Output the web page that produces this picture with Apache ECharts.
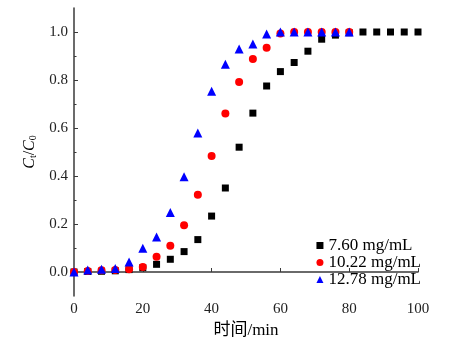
<!DOCTYPE html>
<html><head><meta charset="utf-8">
<script src="https://cdn.jsdelivr.net/npm/echarts@6/dist/echarts.min.js"></script>
<style>html,body{margin:0;padding:0;background:#fff}#c{width:454px;height:344px}</style>
</head><body><div id="c"></div>
<script>
var seriesNames = ['7.60 mg/mL', '10.22 mg/mL', '12.78 mg/mL'];
var timeBlack = [0,4,8,12,16,20,24,28,32,36,40,44,48,52,56,60,64,68,72,76,80,84,88,92,96,100];
var valBlack = [0,0.002,0.003,0.005,0.01,0.018,0.032,0.053,0.085,0.135,0.233,0.35,0.52,0.662,0.775,0.835,0.873,0.92,0.97,0.987,0.997,1,1,1,1,1];
var timeRed = [0,4,8,12,16,20,24,28,32,36,40,44,48,52,56,60,64,68,72,76,80];
var valRed = [0,0.004,0.007,0.008,0.011,0.021,0.064,0.109,0.195,0.322,0.483,0.66,0.792,0.887,0.934,0.994,1,1,1,1,1];
var timeBlue = [0,4,8,12,16,20,24,28,32,36,40,44,48,52,56,60,64,68,72,76,80];
var valBlue = [0,0.008,0.011,0.015,0.042,0.099,0.146,0.248,0.397,0.579,0.753,0.866,0.929,0.95,0.992,1,1,1,1,1,1];
var yMajor = [0, 0.2, 0.4, 0.6, 0.8, 1.0];
var yMinor = [0.1, 0.3, 0.5, 0.7, 0.9];
var xTicks = [0, 20, 40, 60, 80, 100];

function pairs(xs, ys){ return xs.map(function(x,i){ return [x, ys[i]]; }); }

var serif = '"Liberation Serif", "Times New Roman", serif';
var axisColor = '#3a3a3a';
var chart = echarts.init(document.getElementById('c'), null, {renderer:'canvas'});
chart.setOption({
  animation: false,
  backgroundColor: '#fff',
  grid: {left: 74, right: 36, top: 8, bottom: 48},
  legend: {
    right: 28, top: 232, orient: 'vertical', itemWidth: 7, itemHeight: 7, itemGap: 0,
    textStyle: {fontFamily: serif, fontSize: 17, color: '#000'},
    data: [
      {name: seriesNames[0], icon: 'rect'},
      {name: seriesNames[1], icon: 'circle'},
      {name: seriesNames[2], icon: 'triangle'}
    ]
  },
  xAxis: {
    type: 'value', min: 0, max: 100, interval: 20,
    name: '时间/min', nameLocation: 'middle', nameGap: 23,
    nameTextStyle: {fontFamily: '"Liberation Serif", "Noto Sans CJK SC", serif', fontSize: 17, color: '#000'},
    axisLine: {show: true, lineStyle: {color: axisColor, width: 1.5}},
    axisTick: {show: true, inside: true, length: 4, lineStyle: {color: axisColor}, customValues: xTicks},
    axisLabel: {fontFamily: serif, fontSize: 15, color: '#222', margin: 6, customValues: xTicks},
    splitLine: {show: false}
  },
  yAxis: [{
    type: 'value', min: -0.1, max: 1.1, interval: 0.1,
    name: '{i|C}{s|t}{n|/}{i|C}{s|0}', nameLocation: 'middle', nameGap: 34, nameRotate: 90,
    nameTextStyle: {
      rich: {
        i: {fontFamily: serif, fontStyle: 'italic', fontSize: 16, color: '#000', lineHeight: 18},
        n: {fontFamily: serif, fontSize: 16, color: '#000', lineHeight: 18},
        s: {fontFamily: serif, fontSize: 10, color: '#000', lineHeight: 18, padding: [8,0,0,0]}
      }
    },
    axisLine: {show: true, lineStyle: {color: axisColor, width: 1.5}},
    axisTick: {show: true, inside: true, length: 4, lineStyle: {color: axisColor}, customValues: yMajor},
    axisLabel: {fontFamily: serif, fontSize: 15, color: '#222', margin: 6, customValues: yMajor,
      formatter: function(v){ return v.toFixed(1); }},
    splitLine: {show: false}
  }, {
    type: 'value', min: -0.1, max: 1.1, interval: 0.1, position: 'left',
    axisLine: {show: false},
    axisTick: {show: true, inside: true, length: 2.5, lineStyle: {color: axisColor}, customValues: yMinor},
    axisLabel: {show: false},
    splitLine: {show: false}
  }],
  series: [
    {name: seriesNames[0], type: 'scatter', symbol: 'rect', symbolSize: 7, itemStyle: {color: '#000', opacity: 1}, data: pairs(timeBlack, valBlack), z: 2},
    {name: seriesNames[1], type: 'scatter', symbol: 'circle', symbolSize: 8, itemStyle: {color: '#ff0000', opacity: 1}, data: pairs(timeRed, valRed), z: 3},
    {name: seriesNames[2], type: 'scatter', symbol: 'triangle', symbolSize: 9, itemStyle: {color: '#0000ff', opacity: 1}, data: pairs(timeBlue, valBlue), z: 4}
  ]
});
</script></body></html>
